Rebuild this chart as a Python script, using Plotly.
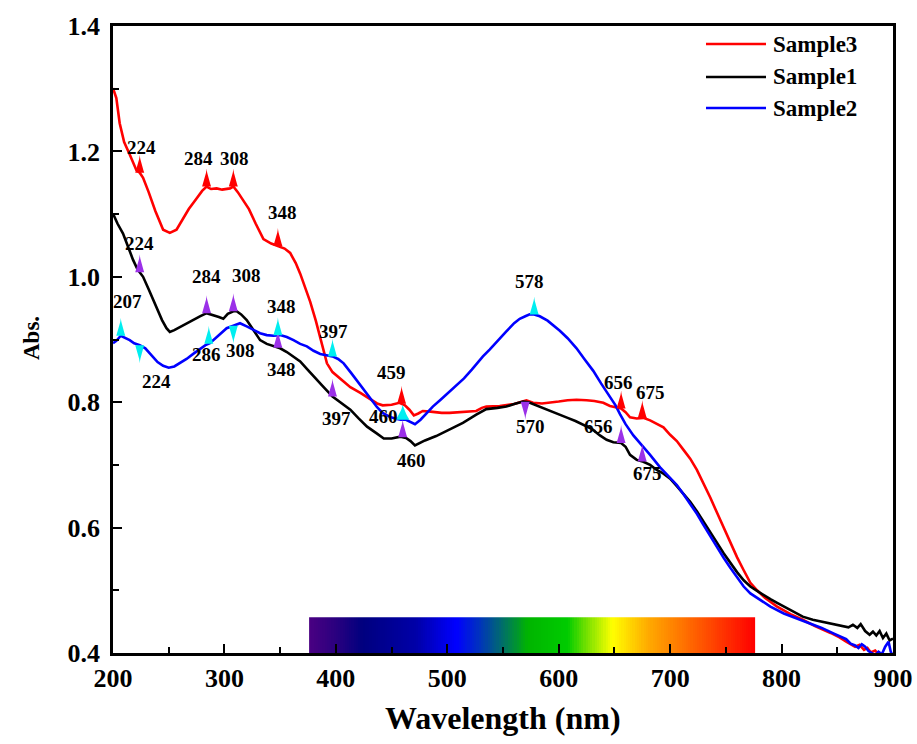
import numpy as np
import plotly.graph_objects as go

# ---- absorption spectra (wavelength in nm, absorbance) ----
wl3 = [200, 203, 206, 210, 215, 221, 224, 227, 232, 238, 245, 251, 257, 262, 268, 275, 280, 284,
       288, 293, 298, 305, 308, 312, 317, 322, 328, 335, 342, 348, 354, 359, 364, 368, 372, 377,
       382, 387, 392, 397, 405, 413, 422, 430, 437, 442, 450, 457, 462, 466, 470, 474, 478, 485,
       495, 502, 510, 518, 526, 531, 535, 547, 560, 571, 577, 585, 592, 600, 608, 616, 625, 632,
       640, 646, 651, 656, 660, 664, 670, 676, 682, 688, 694, 700, 706, 712, 718, 724, 730, 736,
       742, 748, 754, 760, 766, 772, 778, 785, 796, 808, 819, 830, 844, 852, 858, 862, 866, 870,
       874, 877, 880, 884, 887, 890, 895, 900]
abs3 = [1.301, 1.285, 1.245, 1.215, 1.195, 1.170, 1.166, 1.158, 1.135, 1.105, 1.075, 1.070, 1.075,
        1.090, 1.108, 1.125, 1.137, 1.144, 1.140, 1.141, 1.139, 1.141, 1.144, 1.135, 1.122, 1.108,
        1.085, 1.060, 1.053, 1.049, 1.045, 1.038, 1.022, 1.005, 0.985, 0.960, 0.930, 0.895, 0.862,
        0.848, 0.836, 0.824, 0.815, 0.806, 0.798, 0.795, 0.796, 0.799, 0.795, 0.788, 0.779, 0.782,
        0.786, 0.785, 0.783, 0.783, 0.784, 0.784, 0.786, 0.791, 0.793, 0.794, 0.797, 0.803, 0.799,
        0.798, 0.799, 0.801, 0.803, 0.804, 0.803, 0.802, 0.799, 0.794, 0.792, 0.790, 0.784, 0.776,
        0.774, 0.775, 0.771, 0.766, 0.760, 0.748, 0.738, 0.724, 0.710, 0.692, 0.671, 0.648, 0.624,
        0.600, 0.576, 0.553, 0.532, 0.512, 0.500, 0.488, 0.474, 0.462, 0.453, 0.443, 0.432, 0.425,
        0.418, 0.414, 0.410, 0.413, 0.405, 0.408, 0.401, 0.404, 0.398, 0.396, 0.393, 0.390]

wl1 = [200, 204, 209, 214, 218, 222, 227, 232, 236, 240, 244, 248, 251, 255, 260, 266, 272, 278,
       284, 290, 295, 299, 303, 308, 311, 315, 320, 326, 332, 338, 344, 350, 356, 362, 368, 374,
       380, 388, 397, 405, 413, 420, 428, 436, 443, 450, 458, 463, 467, 471, 475, 480, 490, 502,
       514, 526, 535, 545, 553, 560, 568, 573, 577, 585, 592, 600, 608, 615, 622, 630, 637, 643,
       649, 656, 660, 664, 670, 676, 682, 688, 694, 700, 706, 712, 718, 724, 730, 736, 742, 748,
       754, 760, 766, 772, 778, 785, 790, 796, 803, 810, 819, 828, 836, 844, 850, 856, 860, 864,
       868, 871, 875, 879, 882, 885, 888, 891, 894, 897, 900]
abs1 = [1.101, 1.085, 1.069, 1.045, 1.027, 1.012, 1.000, 0.980, 0.963, 0.946, 0.931, 0.918, 0.912,
        0.915, 0.920, 0.926, 0.931, 0.937, 0.942, 0.939, 0.936, 0.933, 0.941, 0.945, 0.945, 0.940,
        0.931, 0.915, 0.899, 0.893, 0.889, 0.886, 0.880, 0.873, 0.865, 0.853, 0.841, 0.826, 0.809,
        0.798, 0.788, 0.775, 0.761, 0.751, 0.742, 0.742, 0.745, 0.743, 0.738, 0.731, 0.735, 0.739,
        0.746, 0.756, 0.767, 0.780, 0.789, 0.791, 0.793, 0.797, 0.801, 0.800, 0.797, 0.791, 0.786,
        0.781, 0.775, 0.770, 0.764, 0.757, 0.747, 0.740, 0.736, 0.735, 0.729, 0.716, 0.708, 0.705,
        0.700, 0.692, 0.686, 0.678, 0.666, 0.654, 0.641, 0.626, 0.610, 0.593, 0.576, 0.559, 0.543,
        0.529, 0.516, 0.506, 0.499, 0.491, 0.486, 0.480, 0.473, 0.466, 0.458, 0.453, 0.450, 0.447,
        0.445, 0.443, 0.441, 0.445, 0.440, 0.446, 0.435, 0.429, 0.434, 0.428, 0.435, 0.424, 0.431,
        0.420, 0.423]

wl2 = [200, 203, 207, 211, 215, 219, 224, 229, 234, 240, 245, 250, 255, 260, 266, 272, 278, 283,
       287, 292, 297, 302, 308, 314, 320, 326, 332, 338, 344, 350, 356, 362, 368, 374, 380, 386,
       392, 397, 402, 407, 414, 422, 430, 437, 442, 448, 453, 458, 463, 467, 471, 476, 481, 487,
       494, 501, 508, 515, 522, 528, 532, 538, 545, 553, 560, 565, 570, 574, 578, 583, 590, 596,
       601, 608, 616, 623, 631, 638, 646, 651, 655, 660, 667, 672, 676, 682, 691, 698, 706, 712,
       718, 724, 730, 736, 742, 748, 754, 760, 766, 772, 781, 790, 802, 814, 826, 836, 847, 854,
       858, 862, 866, 869, 872, 875, 878, 881, 884, 887, 890, 893, 896, 898, 900]
abs2 = [0.894, 0.898, 0.906, 0.903, 0.899, 0.894, 0.891, 0.886, 0.876, 0.864, 0.858, 0.855, 0.857,
        0.862, 0.869, 0.877, 0.885, 0.891, 0.894, 0.902, 0.911, 0.918, 0.922, 0.926, 0.921, 0.915,
        0.910, 0.907, 0.906, 0.907, 0.904, 0.899, 0.893, 0.889, 0.882, 0.877, 0.875, 0.873, 0.869,
        0.862, 0.846, 0.827, 0.808, 0.792, 0.783, 0.777, 0.774, 0.772, 0.772, 0.768, 0.765, 0.772,
        0.782, 0.793, 0.804, 0.815, 0.826, 0.838, 0.852, 0.865, 0.873, 0.884, 0.898, 0.913, 0.926,
        0.933, 0.937, 0.940, 0.940, 0.937, 0.930, 0.922, 0.914, 0.902, 0.886, 0.869, 0.850, 0.830,
        0.809, 0.795, 0.781, 0.765, 0.747, 0.737, 0.729, 0.716, 0.696, 0.683, 0.668, 0.653, 0.638,
        0.622, 0.604, 0.586, 0.569, 0.552, 0.536, 0.520, 0.506, 0.495, 0.484, 0.474, 0.463, 0.455,
        0.447, 0.440, 0.431, 0.426, 0.422, 0.415, 0.412, 0.408, 0.414, 0.410, 0.403, 0.400, 0.396,
        0.402, 0.398, 0.410, 0.418, 0.402, 0.395]

# ---- marked absorption bands (nm) ----
peaks3 = [224, 284, 308, 348, 459, 656, 675]
peaks1 = [224, 284, 308, 348, 397, 460, 570, 656, 675]
peaks2 = [207, 224, 286, 308, 348, 397, 460, 578]

# ---- visible spectrum strip ----
vis_start, vis_end = 376, 776
vis_top = 0.457

# ---- styling ----
FONT = "Liberation Serif"
W, H = 917, 744
ML, MR, MT, MB = 113, 24, 26, 91
PW, PH = W - ML - MR, H - MT - MB
XR = (200, 900)
YR = (0.4, 1.4)
nm_per_px = (XR[1] - XR[0]) / PW
abs_per_px = (YR[1] - YR[0]) / PH

# spike direction (+1 = tip above the curve, -1 = tip below) and label offsets (px, screen dx/dy)
dir3 = [1, 1, 1, 1, 1, 1, 1]
lab3 = [(2, -25), (-8, -28), (1, -28), (5, -34), (-10, -31), (-3, -26), (8, -25)]
dir1 = [1, 1, 1, 1, 1, 1, -1, 1, 1]
lab1 = [(0, -29), (0, -37), (13, -36), (4, 22), (4, 22), (9, 23), (5, 25), (-23, -16), (5, 12)]
dir2 = [1, -1, 1, -1, 1, 1, 1, 1]
lab2 = [(7, -34), (17, 36), (-2, 11), (7, 25), (4, -29), (1, -25), (-19, -3), (-5, -33)]

fig = go.Figure()

# visible spectrum colour strip along the bottom axis
edges = np.linspace(vis_start, vis_end, 201)
mids = (edges[:-1] + edges[1:]) / 2
spectrum_scale = [
    [0.00, "#4a0082"], [0.06, "#2a007f"], [0.12, "#00007f"], [0.24, "#0000a8"],
    [0.33, "#0000ff"], [0.38, "#0030c0"], [0.43, "#006a70"], [0.49, "#00b400"],
    [0.58, "#00cc00"], [0.62, "#70e000"], [0.68, "#ffff00"], [0.76, "#ffaa00"],
    [0.88, "#ff5500"], [1.00, "#ff0000"],
]
fig.add_trace(go.Heatmap(
    x=edges, y=[YR[0], vis_top], z=[mids], colorscale=spectrum_scale,
    zmin=vis_start, zmax=vis_end, showscale=False, hoverinfo="skip",
))

series = [
    ("Sample3", wl3, abs3, "#ff0000", peaks3, dir3, lab3, "#ff0000"),
    ("Sample1", wl1, abs1, "#000000", peaks1, dir1, lab1, "#9b30e8"),
    ("Sample2", wl2, abs2, "#0000ff", peaks2, dir2, lab2, "#00eef0"),
]

for name, wl, ab, color, *_ in series:
    fig.add_trace(go.Scatter(
        x=wl, y=ab, mode="lines", name=name, showlegend=False,
        line=dict(color=color, width=2.6),
    ))

annotations = []
shapes = []
spike_h, spike_w = 18, 4.5
for name, wl, ab, color, peaks, dirs, labs, mcolor in series:
    base = np.interp(peaks, wl, ab)
    sx, sy = [], []
    t = np.linspace(0, 1, 9)
    for p, b, d in zip(peaks, base, dirs):
        w = spike_w * (1.5 if (name == "Sample2" and p == 460) else 1.0)
        h = spike_h * (0.85 if (name == "Sample2" and p == 460) else 1.0)
        half = w * (1 - t) ** 1.4 * nm_per_px
        rise = d * h * t * abs_per_px
        xs = list(p - half) + list(p + half[::-1])
        ys = list(b + rise) + list(b + rise[::-1])
        sx += xs + [None]
        sy += ys + [None]
    fig.add_trace(go.Scatter(
        x=sx, y=sy, mode="lines", fill="toself", fillcolor=mcolor,
        line=dict(width=0, color=mcolor), showlegend=False, hoverinfo="skip",
    ))
    for p, b, (dx, dy) in zip(peaks, base, labs):
        annotations.append(dict(
            x=p, y=b, xref="x", yref="y", text=str(p), showarrow=False,
            xshift=dx, yshift=-dy,
            font=dict(family=FONT, size=19, color="#000000", weight="bold"),
        ))

# legend: line samples with sample names in the upper right corner
legend_rows = [44, 77, 108]
for (name, _, _, color, *_), row in zip(series, legend_rows):
    yp = (H - MB - row) / PH
    shapes.append(dict(
        type="line", xref="paper", yref="paper",
        x0=(706 - ML) / PW, x1=(766 - ML) / PW, y0=yp, y1=yp,
        line=dict(color=color, width=2.6),
    ))
    annotations.append(dict(
        x=(771 - ML) / PW, y=yp, xref="paper", yref="paper", text=name,
        showarrow=False, xanchor="left", yanchor="middle",
        font=dict(family=FONT, size=23, color="#000000", weight="bold"),
    ))

annotations.append(dict(
    x=0.5, y=-(718 - 653) / PH, xref="paper", yref="paper",
    text="Wavelength (nm)", showarrow=False, xanchor="center", yanchor="middle",
    font=dict(family=FONT, size=32, color="#000000", weight="bold"),
))
annotations.append(dict(
    x=-(113 - 31) / PW, y=(653 - 338) / PH, xref="paper", yref="paper",
    text="Abs.", showarrow=False, textangle=-90, xanchor="center", yanchor="middle",
    font=dict(family=FONT, size=23, color="#000000", weight="bold"),
))

axis_common = dict(
    showline=True, linecolor="#000000", linewidth=2.5, mirror=True,
    ticks="inside", tickcolor="#000000", tickwidth=2, ticklen=9,
    showgrid=False, zeroline=False, automargin=False,
    tickfont=dict(family=FONT, size=26, color="#000000", weight="bold"),
)

fig.update_layout(
    width=W, height=H,
    margin=dict(l=ML, r=MR, t=MT, b=MB, autoexpand=False),
    paper_bgcolor="#ffffff", plot_bgcolor="#ffffff",
    xaxis=dict(range=list(XR), dtick=100, tick0=200,
               minor=dict(dtick=50, ticks="inside", ticklen=6, tickwidth=2, tickcolor="#000000"),
               **axis_common),
    yaxis=dict(range=list(YR), dtick=0.2, tick0=0.4, tickformat=".1f", ticklabelstandoff=5,
               minor=dict(dtick=0.1, ticks="inside", ticklen=6, tickwidth=2, tickcolor="#000000"),
               **axis_common),
    annotations=annotations,
    shapes=shapes,
    showlegend=False,
)

fig.write_html("out.html")
